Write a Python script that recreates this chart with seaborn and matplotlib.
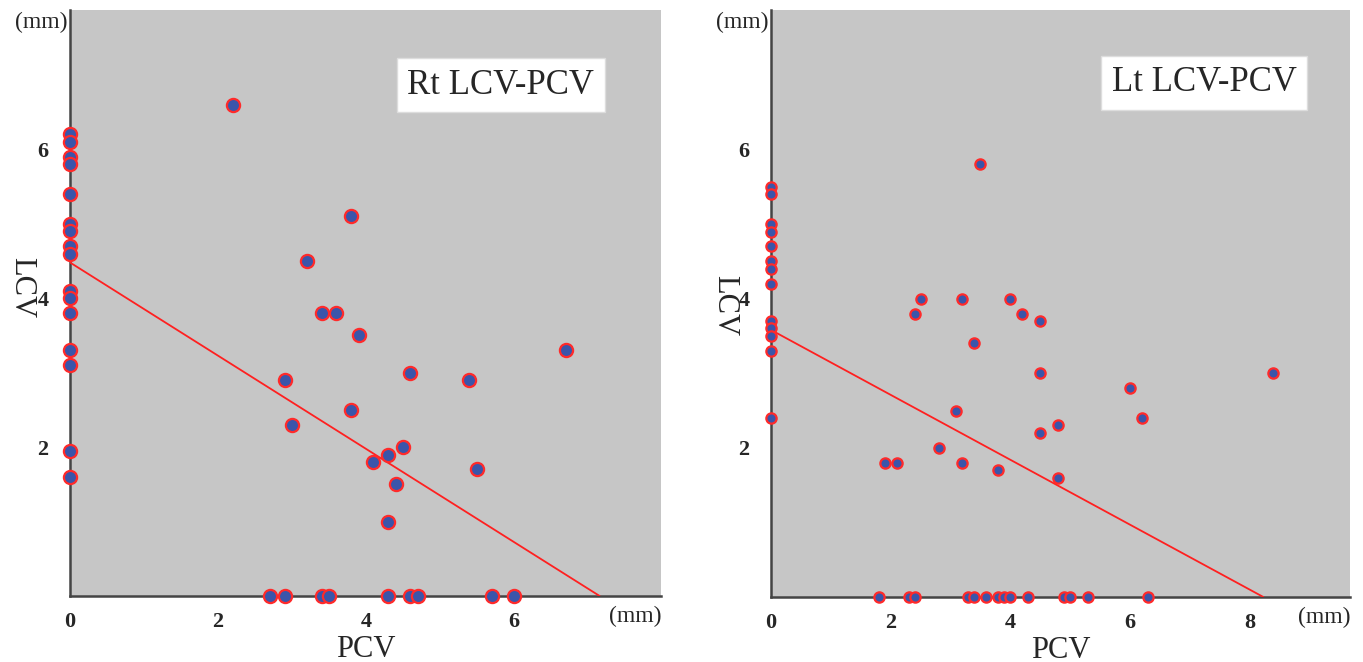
import numpy as np
import pandas as pd
import matplotlib
matplotlib.use('Agg')
import matplotlib.pyplot as plt
import seaborn as sns

# Right side: PCV vs LCV (mm)
rt_pcv = [0, 0, 0, 0, 0, 0, 0, 0, 0, 0, 0, 0, 0, 0, 0, 0,
          2.2, 3.8, 3.2, 3.4, 3.6, 3.9, 6.7, 4.6, 5.4, 2.9, 3.8, 3.0, 4.5, 4.3, 4.1, 5.5, 4.4, 4.3,
          2.7, 2.9, 3.4, 3.5, 4.3, 4.6, 4.7, 5.7, 6.0]
rt_lcv = [6.2, 6.1, 5.9, 5.8, 5.4, 5.0, 4.9, 4.7, 4.6, 4.1, 4.0, 3.8, 3.3, 3.1, 1.95, 1.6,
          6.6, 5.1, 4.5, 3.8, 3.8, 3.5, 3.3, 3.0, 2.9, 2.9, 2.5, 2.3, 2.0, 1.9, 1.8, 1.7, 1.5, 1.0,
          0, 0, 0, 0, 0, 0, 0, 0, 0]

# Left side: PCV vs LCV (mm)
lt_pcv = [0, 0, 0, 0, 0, 0, 0, 0, 0, 0, 0, 0, 0,
          3.5, 2.5, 3.2, 4.0, 2.4, 4.2, 4.5, 3.4, 4.5, 8.4, 6.0, 3.1, 6.2, 4.8, 4.5, 2.8, 1.9, 2.1, 3.2, 3.8, 4.8,
          1.8, 2.3, 2.4, 3.3, 3.4, 3.6, 3.8, 3.9, 4.0, 4.3, 4.9, 5.0, 5.3, 6.3]
lt_lcv = [5.5, 5.4, 5.0, 4.9, 4.7, 4.5, 4.4, 4.2, 3.7, 3.6, 3.5, 3.3, 2.4,
          5.8, 4.0, 4.0, 4.0, 3.8, 3.8, 3.7, 3.4, 3.0, 3.0, 2.8, 2.5, 2.4, 2.3, 2.2, 2.0, 1.8, 1.8, 1.8, 1.7, 1.6,
          0, 0, 0, 0, 0, 0, 0, 0, 0, 0, 0, 0, 0, 0]

# regression lines (end points)
rt_fit_pcv = [0, 7.16]
rt_fit_lcv = [4.48, 0]
lt_fit_pcv = [0, 8.23]
lt_fit_lcv = [3.58, 0]

panels = [
    dict(title='Rt LCV-PCV', pcv=rt_pcv, lcv=rt_lcv, fx=rt_fit_pcv, fy=rt_fit_lcv,
         rect=[0.0514, 0.0997, 0.4336, 0.885], xmax=7.99, size=90, box=(0.729, 0.872),
         ylab=(-0.082, 0.527)),
    dict(title='Lt LCV-PCV', pcv=lt_pcv, lcv=lt_lcv, fx=lt_fit_pcv, fy=lt_fit_lcv,
         rect=[0.5657, 0.0982, 0.4248, 0.8867], xmax=9.68, size=55, box=(0.748, 0.876),
         ylab=(-0.080, 0.497)),
]

sns.set_theme(style='white')
plt.rcParams['font.family'] = ['Liberation Serif', 'DejaVu Serif']

fig = plt.figure(figsize=(13.63, 6.62), dpi=100)

for p in panels:
    ax = fig.add_axes(p['rect'])
    ax.set_facecolor('#c6c6c6')
    df = pd.DataFrame({'PCV': p['pcv'], 'LCV': p['lcv']})

    sns.lineplot(x=p['fx'], y=p['fy'], ax=ax, color='#ff2020', linewidth=1.3, zorder=3)
    sns.scatterplot(data=df, x='PCV', y='LCV', ax=ax, s=p['size'], color='#3a55aa',
                    edgecolor='#ff2a2a', linewidth=1.6, zorder=5, clip_on=False)

    ax.set_xlim(0, p['xmax'])
    ax.set_ylim(0, 7.87)

    xt = list(range(0, int(p['xmax']) + 1))
    ax.set_xticks(xt)
    ax.set_xticklabels([str(t) if t % 2 == 0 else '' for t in xt])
    yt = list(range(1, 8))
    ax.set_yticks(yt)
    ax.set_yticklabels([str(t) if t % 2 == 0 else '' for t in yt])
    ax.tick_params(direction='inout', length=7, width=1.3, color='#222222', labelsize=16)
    ax.tick_params(axis='x', pad=8)
    ax.tick_params(axis='y', pad=12)
    for lab in ax.get_xticklabels() + ax.get_yticklabels():
        lab.set_fontweight('bold')

    for s in ['top', 'right']:
        ax.spines[s].set_visible(False)
    for s in ['left', 'bottom']:
        ax.spines[s].set_color('#444444')
        ax.spines[s].set_linewidth(1.8)

    ax.set_xlabel('PCV', fontsize=22)
    ax.xaxis.set_label_coords(0.5, -0.066)
    ax.set_ylabel('LCV', fontsize=22, rotation=270, va='center', ha='center')
    ax.yaxis.set_label_coords(*p['ylab'])

    ax.text(p['box'][0], p['box'][1], p['title'], transform=ax.transAxes,
            ha='center', va='center', fontsize=25, zorder=6,
            bbox=dict(boxstyle='square,pad=0.3', facecolor='white', edgecolor='#dddddd'))

    # unit labels
    ax.text(-0.005, 0.997, '(mm)', transform=ax.transAxes, ha='right', va='top', fontsize=17)
    ax.text(1.0, -0.035, '(mm)', transform=ax.transAxes, ha='right', va='center', fontsize=17)

fig.savefig('out.png', dpi=100)
